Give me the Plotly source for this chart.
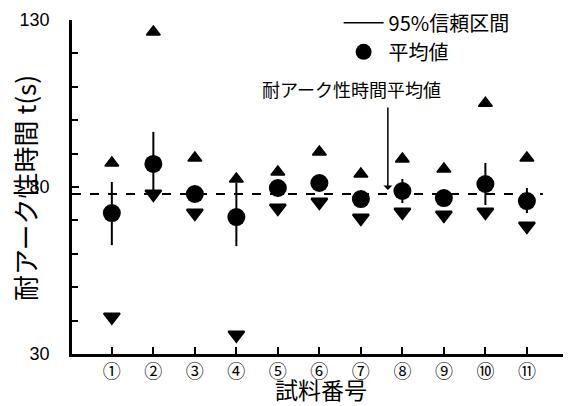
import plotly.graph_objects as go

samples = list(range(1, 12))
sample_labels = ["①", "②", "③", "④", "⑤", "⑥", "⑦", "⑧", "⑨", "⑩", "⑪"]
mean_vals = [72.2, 86.9, 77.9, 71.0, 79.7, 81.2, 76.4, 78.8, 76.7, 80.9, 75.8]
ci_high = [81.5, 96.5, 80.0, 81.2, 81.5, 83.0, 78.5, 82.4, 78.8, 87.2, 79.7]
ci_low = [62.6, 77.3, 75.8, 62.3, 77.9, 79.4, 74.3, 75.2, 74.6, 74.6, 72.2]
max_vals = [87.2, 126.4, 88.7, 82.4, 84.5, 90.5, 83.9, 88.4, 85.4, 105.1, 88.7]
min_vals = [41.1, 77.9, 72.2, 35.7, 73.7, 75.5, 70.7, 72.5, 71.6, 72.5, 68.3]
overall_avg = 77.9

y_ticks = [30, 80, 130]

CJK = "Noto Sans CJK JP, sans-serif"
NUM = "Liberation Sans Narrow, Arial Narrow, Liberation Sans, Arial, sans-serif"

err_plus = [h - m for h, m in zip(ci_high, mean_vals)]
err_minus = [m - l for m, l in zip(mean_vals, ci_low)]

fig = go.Figure()

# legend-only entry for confidence interval line
fig.add_trace(go.Scatter(
    x=[None], y=[None], mode="lines", name="95%信頼区間",
    line=dict(color="black", width=1.5),
))

fig.add_trace(go.Scatter(
    x=samples, y=max_vals, mode="markers", showlegend=False,
    marker=dict(symbol="triangle-up", size=12, color="black",
                line=dict(color="black", width=1.5)),
))
fig.add_trace(go.Scatter(
    x=samples, y=min_vals, mode="markers", showlegend=False,
    marker=dict(symbol="triangle-down", size=14, color="black",
                line=dict(color="black", width=2)),
))
fig.add_trace(go.Scatter(
    x=samples, y=mean_vals, mode="markers", name="平均値",
    marker=dict(symbol="circle", size=18, color="black"),
    error_y=dict(type="data", symmetric=False, array=err_plus,
                 arrayminus=err_minus, color="black", thickness=2, width=0),
))

fig.add_shape(type="line", xref="paper", yref="y", x0=0, x1=0.959,
              y0=overall_avg, y1=overall_avg,
              line=dict(color="black", width=2, dash="dash"))

fig.add_annotation(x=7.65, y=overall_avg + 1.2, xref="x", yref="y",
                   text="", showarrow=True, ax=0, ay=-84,
                   arrowhead=1, arrowsize=1, arrowwidth=1.5, arrowcolor="black")
fig.add_annotation(x=6.78, y=109.3, xref="x", yref="y",
                   text="耐アーク性時間平均値", showarrow=False,
                   font=dict(family=CJK, size=18, color="black"))

# axis titles
fig.add_annotation(x=0.507, y=-0.106, xref="paper", yref="paper",
                   text="試料番号", showarrow=False, yanchor="middle",
                   font=dict(family=CJK, size=23, color="black"))
fig.add_annotation(x=-0.098, y=0.497, xref="paper", yref="paper",
                   text="耐アーク性時間 t(s)", showarrow=False, textangle=-90,
                   xanchor="center", yanchor="middle",
                   font=dict(family=CJK, size=26, color="black"))

fig.update_layout(
    width=574, height=406,
    margin=dict(l=72, r=11, t=20, b=52, autoexpand=False),
    plot_bgcolor="white", paper_bgcolor="white",
    showlegend=True,
    legend=dict(x=0.543, y=1.05, xanchor="left", yanchor="top",
                font=dict(family=CJK, size=20, color="black"),
                bgcolor="rgba(0,0,0,0)", itemwidth=40,
                tracegroupgap=0),
    xaxis=dict(range=[0.04, 11.87], tickvals=samples, ticktext=sample_labels,
               ticks="inside", ticklen=7, tickwidth=1.5, tickcolor="black",
               showline=True, linecolor="black", linewidth=2.5,
               showgrid=False, zeroline=False,
               tickfont=dict(family=CJK, size=18, color="black")),
    yaxis=dict(range=[30, 130], tickvals=y_ticks,
               ticks="inside", ticklen=7, tickwidth=1.5, tickcolor="black",
               ticklabelstandoff=16,
               minor=dict(dtick=10, ticks="inside", ticklen=6, tickwidth=1.5,
                          tickcolor="black", showgrid=False),
               showline=True, linecolor="black", linewidth=2.5,
               showgrid=False, zeroline=False,
               tickfont=dict(family=NUM, size=18, color="black")),
)

fig.write_html("out.html", config={"displayModeBar": False},
               post_script="document.body.style.margin='0';")
